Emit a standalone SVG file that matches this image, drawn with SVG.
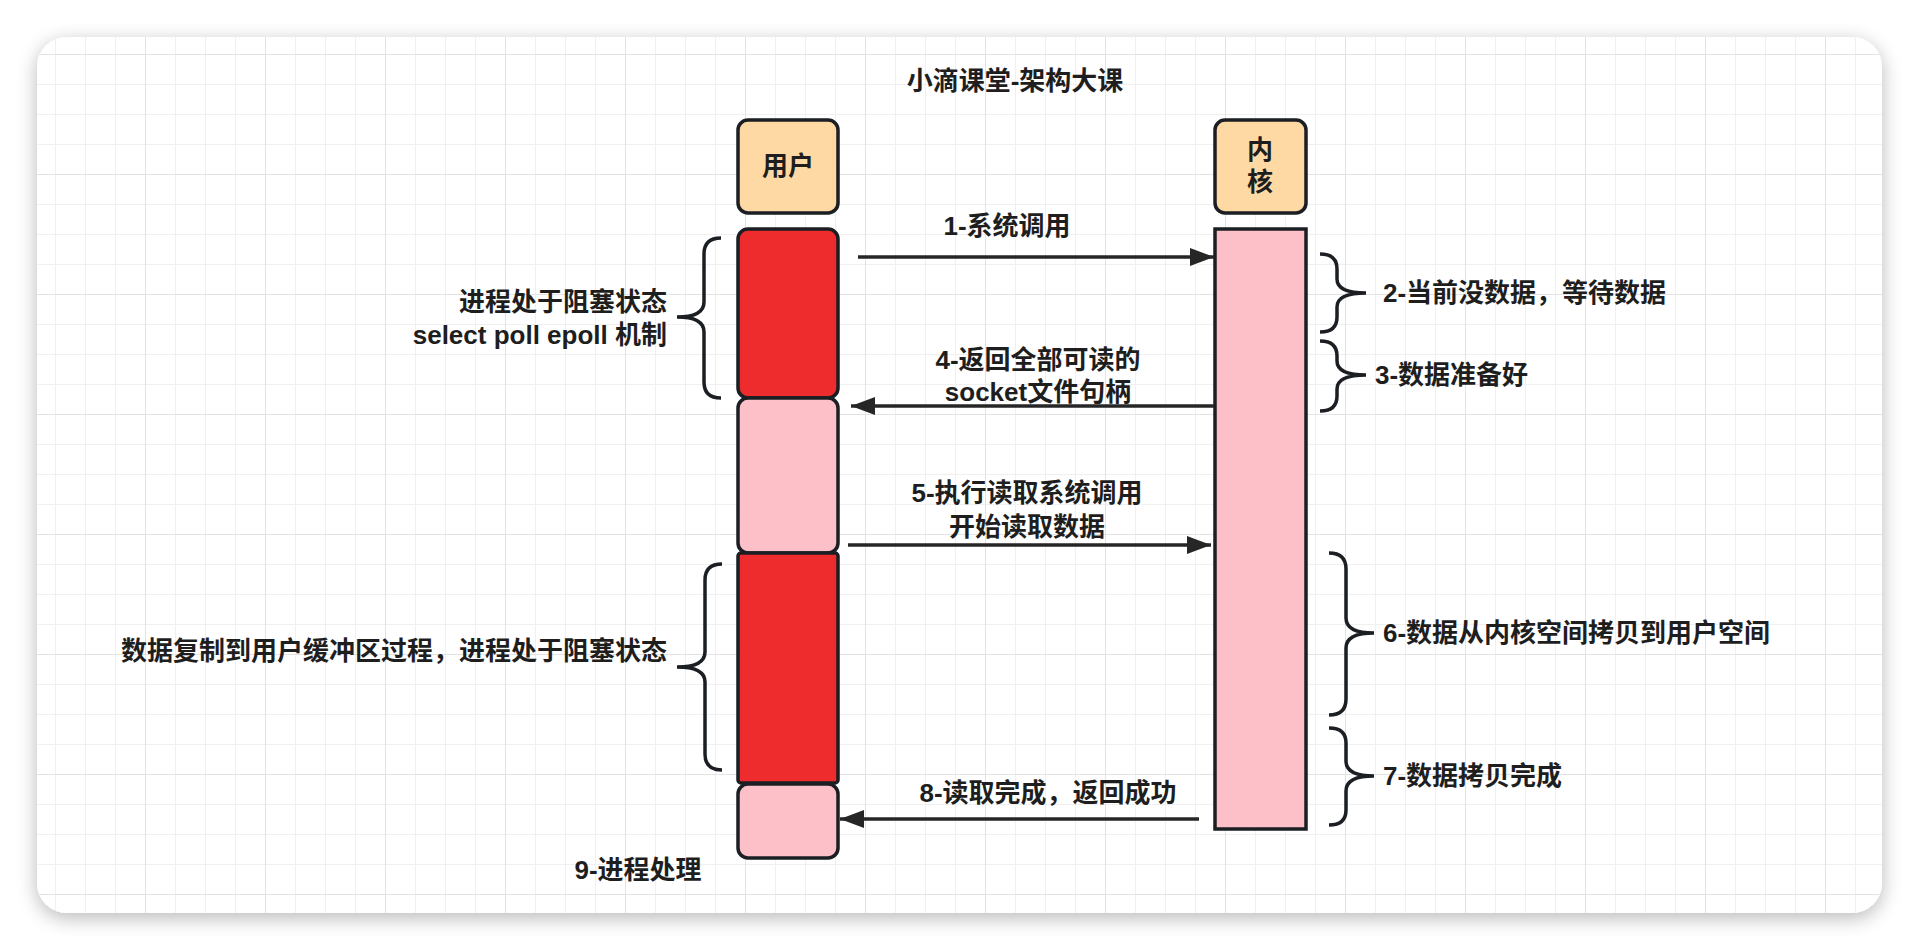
<svg xmlns="http://www.w3.org/2000/svg" width="1918" height="950" viewBox="0 0 1918 950">
<defs>
<filter id="shadow" x="-5%" y="-10%" width="110%" height="125%">
<feGaussianBlur in="SourceAlpha" stdDeviation="10"/>
<feOffset dy="5" result="b"/>
<feComponentTransfer><feFuncA type="linear" slope="0.28"/></feComponentTransfer>
<feMerge><feMergeNode/><feMergeNode in="SourceGraphic"/></feMerge>
</filter>
<pattern id="grid" patternUnits="userSpaceOnUse" x="25" y="54" width="120" height="120">
<path d="M30.5 0V120M60.5 0V120M90.5 0V120M0 30.5H120M0 60.5H120M0 90.5H120" stroke="#f0f0f0" stroke-width="1" fill="none"/>
<path d="M0.5 0V120M0 0.5H120" stroke="#e3e3e3" stroke-width="1" fill="none"/>
</pattern>
<marker id="arr" markerUnits="userSpaceOnUse" viewBox="0 0 24 18" markerWidth="24" markerHeight="18" refX="24" refY="9" orient="auto">
<path d="M0 0L24 9L0 18Z" fill="#262626"/>
</marker>
<style>
text{font-family:"Liberation Sans","Noto Sans CJK SC",sans-serif;font-size:26px;fill:#1e1e1e;font-weight:bold}
.box{stroke:#1b1f23;stroke-width:3.5}
.hdr{fill:#FFD9A4}
.red{fill:#EE2B2D}
.pink{fill:#FDC0C8}
.conn{stroke:#262626;stroke-width:3.5;fill:none}
.brace{stroke:#1b1f23;stroke-width:3.5;fill:none}
</style>
</defs>
<rect x="0" y="0" width="1918" height="950" fill="#ffffff"/>
<rect x="37" y="37" width="1845" height="876" rx="30" fill="#ffffff" filter="url(#shadow)"/>
<rect x="37" y="37" width="1845" height="876" rx="30" fill="url(#grid)"/>

<g id="title"><text x="1015" y="81" text-anchor="middle" dominant-baseline="central">小滴课堂-架构大课</text></g>

<g id="user-header">
<rect class="box hdr" x="738" y="120" width="100" height="93" rx="10"/>
<text x="788" y="166" text-anchor="middle" dominant-baseline="central">用户</text>
</g>
<g id="kernel-header">
<rect class="box hdr" x="1215" y="120" width="91" height="93" rx="10"/>
<text x="1260" y="150" text-anchor="middle" dominant-baseline="central">内</text>
<text x="1260" y="182" text-anchor="middle" dominant-baseline="central">核</text>
</g>

<g id="user-block1"><rect class="box red" x="738" y="229" width="100" height="169" rx="10"/></g>
<g id="user-block2"><rect class="box pink" x="738" y="398" width="100" height="155" rx="10"/></g>
<g id="user-block3"><rect class="box red" x="738" y="553" width="100" height="230" rx="3"/></g>
<g id="user-block4"><rect class="box pink" x="738" y="784" width="100" height="74" rx="10"/></g>
<g id="kernel-block"><rect class="box pink" x="1215" y="229" width="91" height="600"/></g>

<g id="connectors">
<line class="conn" x1="858" y1="257" x2="1214" y2="257" marker-end="url(#arr)"/>
<line class="conn" x1="1214" y1="406" x2="851" y2="406" marker-end="url(#arr)"/>
<line class="conn" x1="848" y1="545" x2="1211" y2="545" marker-end="url(#arr)"/>
<line class="conn" x1="1199" y1="819" x2="840" y2="819" marker-end="url(#arr)"/>
</g>

<g id="label-1"><text x="1007" y="226" text-anchor="middle" dominant-baseline="central">1-系统调用</text></g>
<g id="label-4">
<text x="1038" y="360" text-anchor="middle" dominant-baseline="central">4-返回全部可读的</text>
<text x="1038" y="392" text-anchor="middle" dominant-baseline="central">socket文件句柄</text>
</g>
<g id="label-5">
<text x="1027" y="493" text-anchor="middle" dominant-baseline="central">5-执行读取系统调用</text>
<text x="1027" y="527" text-anchor="middle" dominant-baseline="central">开始读取数据</text>
</g>
<g id="label-8"><text x="1048" y="793" text-anchor="middle" dominant-baseline="central">8-读取完成，返回成功</text></g>

<g id="brace-left-1">
<path class="brace" d="M721 238Q704 238 704 254L704 302Q704 317 677 317Q704 317 704 332L704 382Q704 398 721 398"/>
<text x="667" y="302" text-anchor="end" dominant-baseline="central">进程处于阻塞状态</text>
<text x="667" y="335" text-anchor="end" dominant-baseline="central">select poll epoll 机制</text>
</g>
<g id="brace-left-2">
<path class="brace" d="M722 564Q705 564 705 580L705 652Q705 667 677 667Q705 667 705 682L705 754Q705 770 722 770"/>
<text x="667" y="651" text-anchor="end" dominant-baseline="central">数据复制到用户缓冲区过程，进程处于阻塞状态</text>
</g>
<g id="label-9"><text x="638" y="870" text-anchor="middle" dominant-baseline="central">9-进程处理</text></g>

<g id="brace-right-2">
<path class="brace" d="M1320 254Q1337 254 1337 269L1337 279Q1337 293 1366 293Q1337 293 1337 307L1337 317Q1337 332 1320 332"/>
<text x="1383" y="293" dominant-baseline="central">2-当前没数据，等待数据</text>
</g>
<g id="brace-right-3">
<path class="brace" d="M1320 341Q1337 341 1337 356L1337 361Q1337 375 1366 375Q1337 375 1337 389L1337 396Q1337 411 1320 411"/>
<text x="1375" y="375" dominant-baseline="central">3-数据准备好</text>
</g>
<g id="brace-right-6">
<path class="brace" d="M1329 553Q1346 553 1346 569L1346 618Q1346 633 1374 633Q1346 633 1346 648L1346 699Q1346 715 1329 715"/>
<text x="1383" y="633" dominant-baseline="central">6-数据从内核空间拷贝到用户空间</text>
</g>
<g id="brace-right-7">
<path class="brace" d="M1329 728Q1346 728 1346 743L1346 761Q1346 776 1374 776Q1346 776 1346 791L1346 810Q1346 825 1329 825"/>
<text x="1383" y="776" dominant-baseline="central">7-数据拷贝完成</text>
</g>
</svg>
